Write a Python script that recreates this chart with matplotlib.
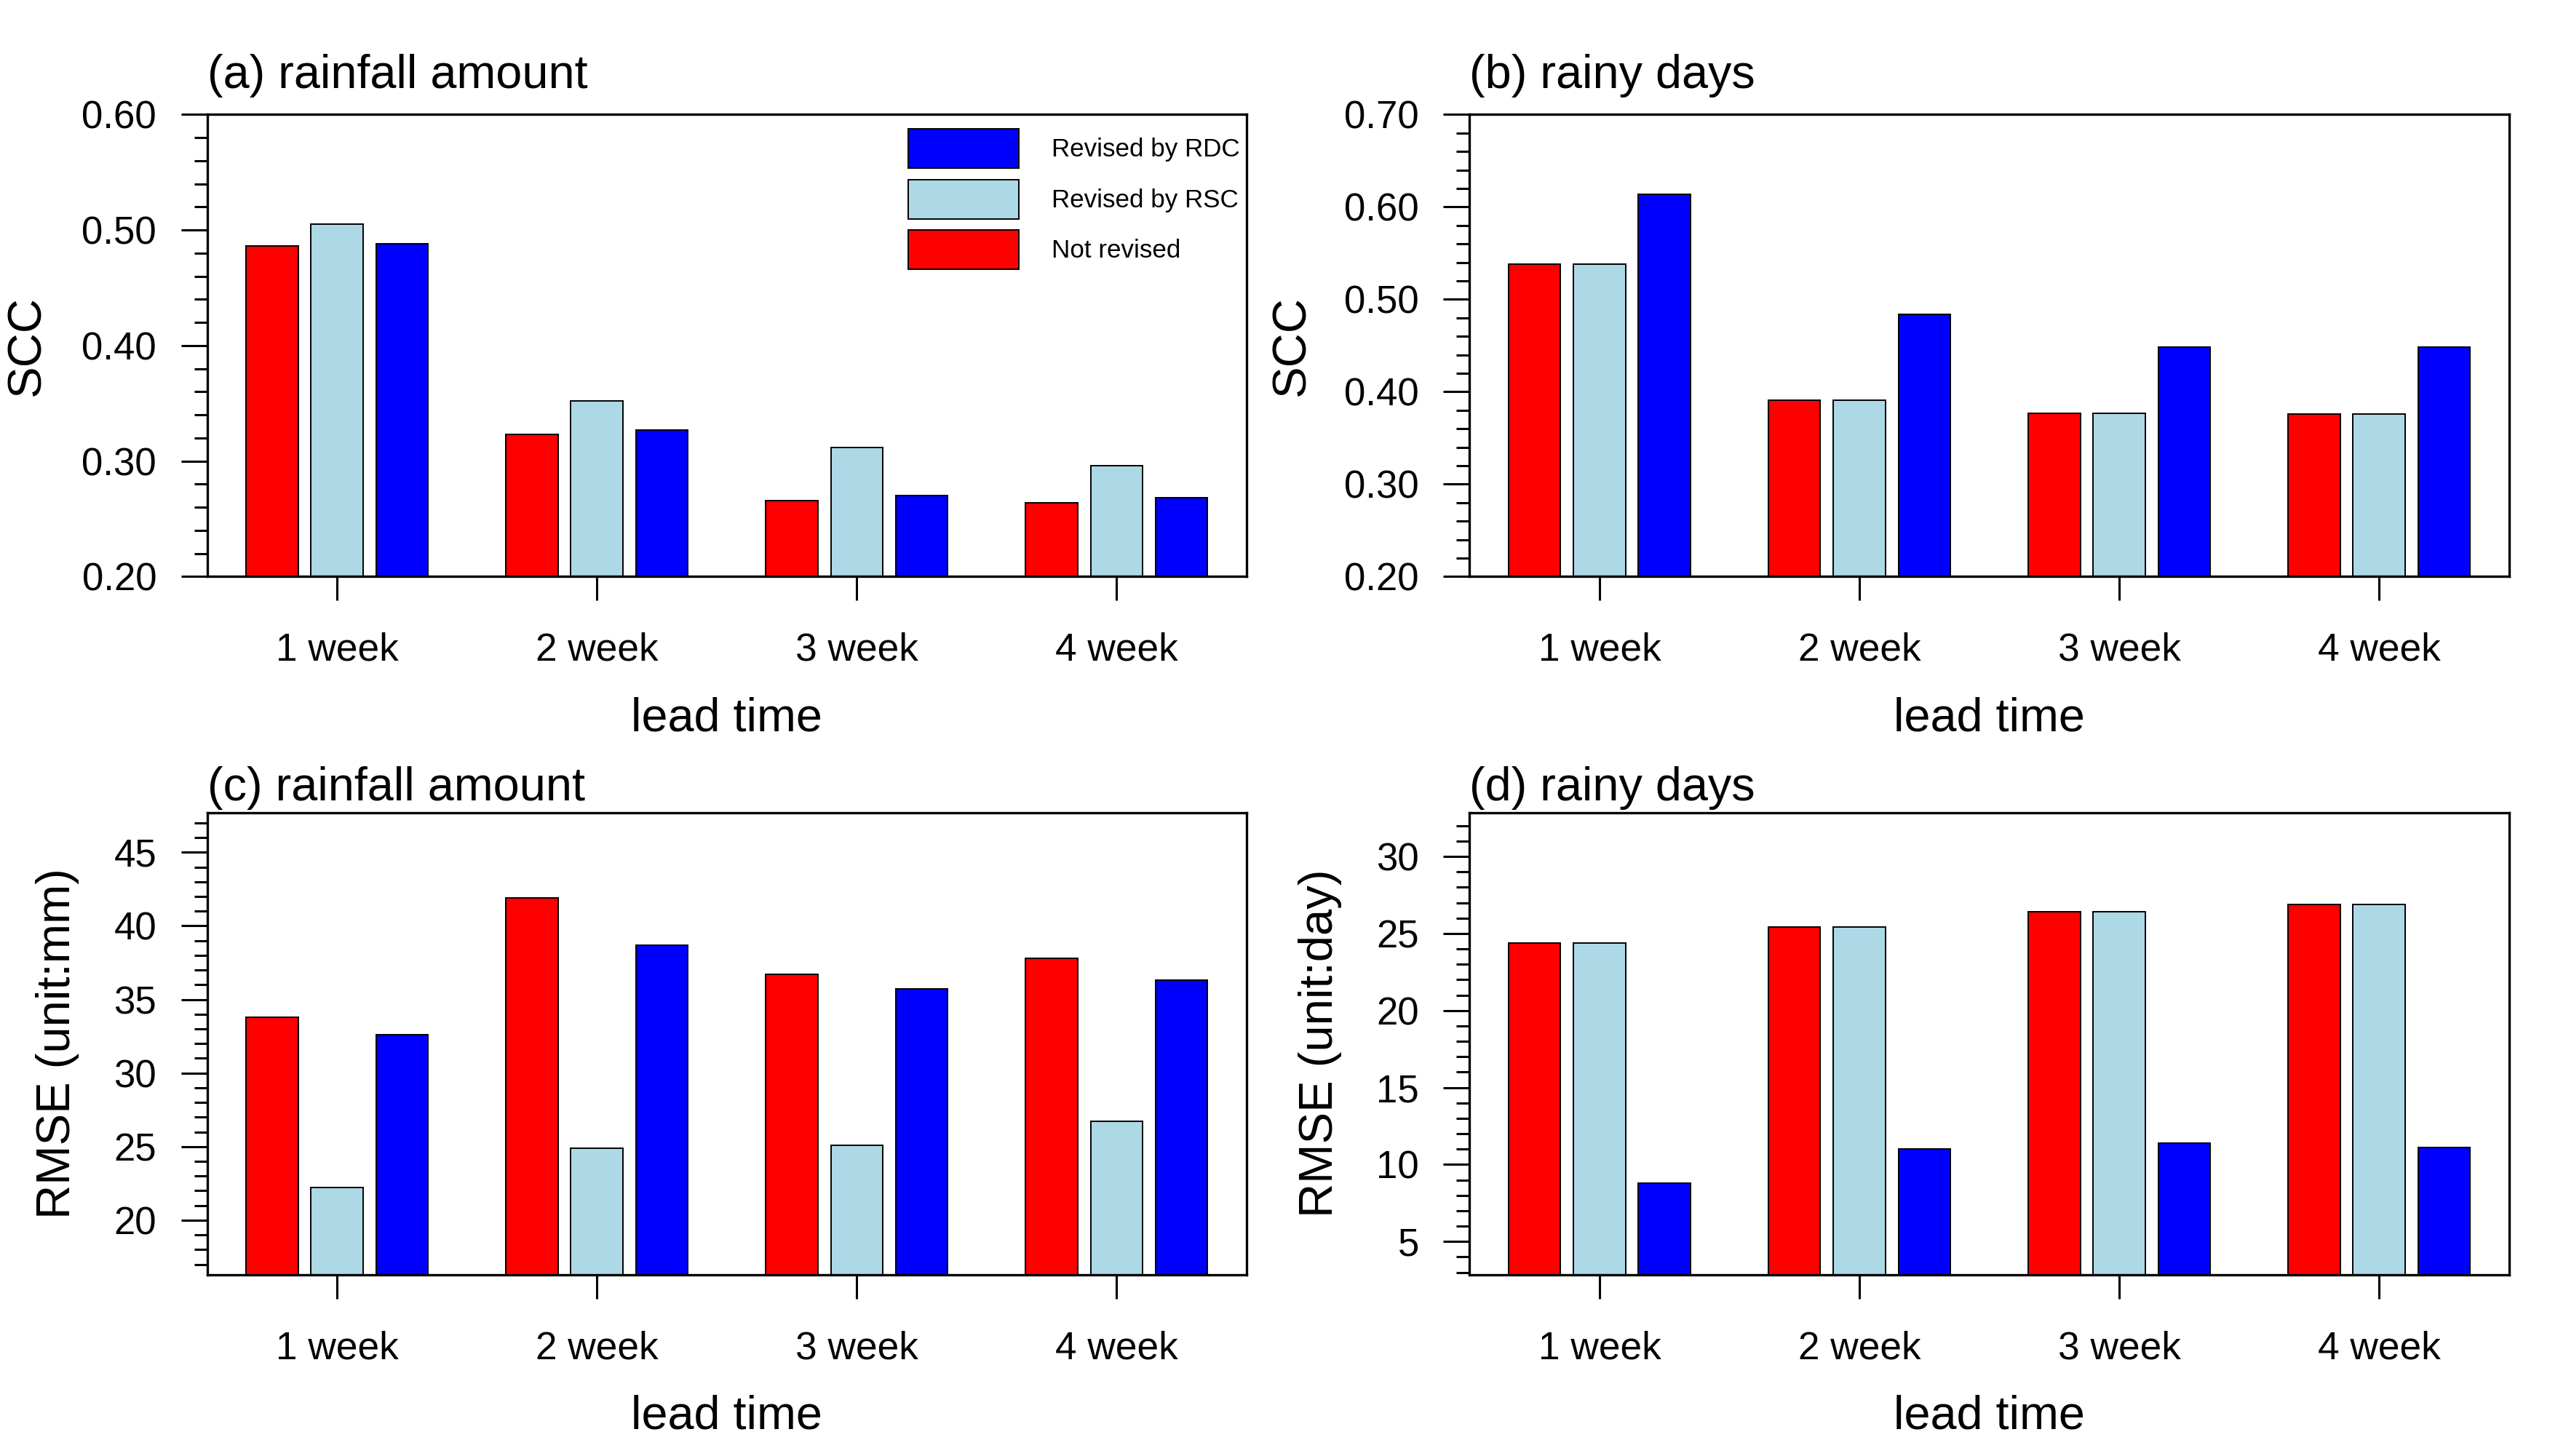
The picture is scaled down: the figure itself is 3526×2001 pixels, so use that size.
import numpy as np
import matplotlib
matplotlib.use("Agg")
import matplotlib.pyplot as plt
from matplotlib.ticker import MultipleLocator, FormatStrFormatter

plt.rcParams['font.family'] = ['Liberation Sans', 'DejaVu Sans']

# lead times on the x axis
weeks = ['1 week', '2 week', '3 week', '4 week']
series_names = ['Not revised', 'Revised by RSC', 'Revised by RDC']
series_colors = ['#ff0000', '#add8e6', '#0000ff']

# (a) SCC of rainfall amount
scc_amount_not = [0.486, 0.323, 0.266, 0.264]
scc_amount_rsc = [0.505, 0.352, 0.312, 0.296]
scc_amount_rdc = [0.488, 0.327, 0.270, 0.268]

# (b) SCC of rainy days
scc_days_not = [0.538, 0.391, 0.377, 0.376]
scc_days_rsc = [0.538, 0.391, 0.377, 0.376]
scc_days_rdc = [0.614, 0.484, 0.448, 0.448]

# (c) RMSE of rainfall amount (mm)
rmse_amount_not = [33.8, 41.9, 36.7, 37.8]
rmse_amount_rsc = [22.2, 24.9, 25.1, 26.7]
rmse_amount_rdc = [32.6, 38.7, 35.7, 36.3]

# (d) RMSE of rainy days (day)
rmse_days_not = [24.4, 25.4, 26.4, 26.9]
rmse_days_rsc = [24.4, 25.4, 26.4, 26.9]
rmse_days_rdc = [8.8, 11.0, 11.4, 11.1]


def bar_panel(ax, values, title, ylabel, ylim, major, minor, fmt, title_y, ylabel_x):
    """Draws one grouped bar panel in the NCL look."""
    x = np.arange(1, len(weeks) + 1)
    offsets = [-0.25, 0.0, 0.25]
    bars = []
    for vals, off, color, name in zip(values, offsets, series_colors, series_names):
        b = ax.bar(x + off, vals, width=0.2, color=color, edgecolor='black',
                   linewidth=0.7, label=name, zorder=2)
        bars.append(b)

    ax.set_xlim(0.5, 4.5)
    ax.set_ylim(*ylim)
    ax.set_xticks(x)
    ax.set_xticklabels(weeks)
    ax.yaxis.set_major_locator(MultipleLocator(major))
    ax.yaxis.set_minor_locator(MultipleLocator(minor))
    ax.yaxis.set_major_formatter(FormatStrFormatter(fmt))

    for s in ax.spines.values():
        s.set_linewidth(1.2)
    ax.tick_params(axis='y', which='major', direction='out', length=13, width=1.1,
                   labelsize=19, pad=12)
    ax.tick_params(axis='y', which='minor', direction='out', length=6.5, width=1.1)
    ax.tick_params(axis='x', which='major', direction='out', length=12, width=1.1,
                   labelsize=19.2, pad=15.5)
    ax.tick_params(axis='x', which='minor', bottom=False)

    ax.set_xlabel('lead time', fontsize=23.3, labelpad=14)
    ax.set_ylabel(ylabel, fontsize=23.5, va='center')
    ax.yaxis.set_label_coords(ylabel_x, 0.5)
    ax.text(0.0, title_y, title, transform=ax.transAxes, fontsize=23.3,
            ha='left', va='baseline')
    return bars


def main():
    fig = plt.figure(figsize=(17.63, 10.005), dpi=200)
    w, h = 0.4051, 0.3173
    ax_a = fig.add_axes([0.0807, 0.6040, w, h])
    ax_b = fig.add_axes([0.5727, 0.6040, w, h])
    ax_c = fig.add_axes([0.0807, 0.1246, w, h])
    ax_d = fig.add_axes([0.5727, 0.1246, w, h])

    bars = bar_panel(ax_a, [scc_amount_not, scc_amount_rsc, scc_amount_rdc],
                     '(a) rainfall amount', 'SCC', (0.2, 0.6), 0.1, 0.02, '%.2f',
                     1.057, -0.173)
    bar_panel(ax_b, [scc_days_not, scc_days_rsc, scc_days_rdc],
              '(b) rainy days', 'SCC', (0.2, 0.7), 0.1, 0.02, '%.2f',
              1.057, -0.171)
    bar_panel(ax_c, [rmse_amount_not, rmse_amount_rsc, rmse_amount_rdc],
              '(c) rainfall amount', 'RMSE (unit:mm)', (16.3, 47.7), 5, 1, '%d',
              1.027, -0.144)
    bar_panel(ax_d, [rmse_days_not, rmse_days_rsc, rmse_days_rdc],
              '(d) rainy days', 'RMSE (unit:day)', (2.85, 32.85), 5, 1, '%d',
              1.027, -0.144)

    # legend in panel (a), listed top to bottom as RDC, RSC, not revised
    handles = [bars[2], bars[1], bars[0]]
    labels = [series_names[2], series_names[1], series_names[0]]
    ax_a.legend(handles, labels, loc='upper left', bbox_to_anchor=(0.6744, 0.969),
                frameon=False, fontsize=12.6, handlelength=4.35, handleheight=2.0,
                labelspacing=0.44, handletextpad=1.27, borderpad=0, borderaxespad=0)

    fig.savefig('out.png', dpi=200)


if __name__ == "__main__":
    main()
